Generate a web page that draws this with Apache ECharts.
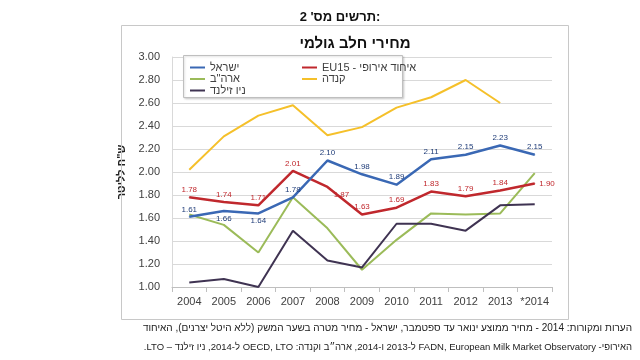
<!DOCTYPE html>
<html><head><meta charset="utf-8">
<script src="https://cdn.jsdelivr.net/npm/echarts@6/dist/echarts.min.js"></script>
<style>html,body{margin:0;padding:0;background:#fff}#c{width:640px;height:360px}</style>
</head><body><div id="c"></div>
<script>
const years = ['2004','2005','2006','2007','2008','2009','2010','2011','2012','2013','*2014'];
const israel = [1.61,1.66,1.64,1.78,2.10,1.98,1.89,2.11,2.15,2.23,2.15];
const eu15 = [1.78,1.74,1.71,2.01,1.87,1.63,1.69,1.83,1.79,1.84,1.90];
const usa = [1.63,1.54,1.30,1.78,1.51,1.15,1.41,1.64,1.63,1.64,1.99];
const canada = [2.02,2.31,2.49,2.58,2.32,2.39,2.56,2.65,2.80,2.60,null];
const nz = [1.04,1.07,1.00,1.49,1.23,1.17,1.55,1.55,1.49,1.71,1.72];
const names = ['ישראל','איחוד אירופי - EU15','ארה"ב','קנדה','ניו זילנד'];
const titleText = 'מחירי חלב גולמי';
const figText = "תרשים מס' 2:";
const yName = 'ש"ח לליטר';
const note1 = 'הערות ומקורות: 2014 - מחיר ממוצע ינואר עד ספטמבר, ישראל - מחיר מטרה בשער המשק (ללא היטל יצרנים), האיחוד';
const note2 = 'האירופי- FADN, European Milk Market Observatory ל-2013 ו-2014, ארה״ב וקנדה: OECD, LTO ל-2014, ניו זילנד – LTO.';

const RLE = '\u202B', PDF = '\u202C';
const FONT = '"Liberation Sans", Arial, "DejaVu Sans", sans-serif';
const israelPos = ['top','bottom','bottom','top','top','top','top','top','top','top','top'];
const euPos = ['top','top','top','top','bottom','top','top','top','top','top','right'];

function withLabels(vals, pos, color, isEu) {
  return vals.map((v, i) => ({
    value: v,
    label: { show: true, position: pos[i], distance: pos[i]==='right' ? 4 : 3, color: color, fontSize: 8, fontFamily: FONT,
      formatter: p => p.value.toFixed(2), offset: (pos[i]==='bottom' && isEu) ? [14,0] : [0,0] }
  }));
}

const lineBase = { type: 'line', symbol: 'circle', symbolSize: 1, showSymbol: true, emphasis: { disabled: true } };
const icon = 'path://M0,5 L15,5 L15,7 L0,7 Z';
const legendText = { color: '#404040', fontSize: 11, fontFamily: FONT };

const chart = echarts.init(document.getElementById('c'));
chart.setOption({
  animation: false,
  backgroundColor: '#fff',
  grid: { left: 172, right: 88, top: 57, bottom: 73 },
  xAxis: {
    type: 'category', data: years, boundaryGap: true,
    axisLine: { lineStyle: { color: '#bfbfbf' } },
    axisTick: { show: true, interval: 0, lineStyle: { color: '#bfbfbf' } },
    axisLabel: { color: '#404040', fontSize: 11, fontFamily: FONT, margin: 9, interval: 0 }
  },
  yAxis: {
    type: 'value', min: 1, max: 3, interval: 0.2,
    name: yName, nameLocation: 'middle', nameGap: 40, nameRotate: 90,
    nameTextStyle: { color: '#222', fontSize: 11, fontWeight: 'bold', fontFamily: FONT },
    axisLine: { show: true, lineStyle: { color: '#d9d9d9' } },
    axisTick: { show: false },
    splitLine: { lineStyle: { color: '#d9d9d9' } },
    axisLabel: { color: '#404040', fontSize: 11, fontFamily: FONT, margin: 12, formatter: v => v.toFixed(2) }
  },
  legend: [
    { data: [names[0], names[2], names[4]], orient: 'vertical', left: 185, top: 57, itemWidth: 15, itemHeight: 12, itemGap: 0.5,
      icon: icon, textStyle: legendText, formatter: n => RLE + n + PDF, z: 6 },
    { data: [names[1], names[3]], orient: 'vertical', left: 297, top: 57, itemWidth: 15, itemHeight: 12, itemGap: 0.5,
      icon: icon, textStyle: legendText, formatter: n => RLE + n + PDF, z: 6 }
  ],
  graphic: [
    { type: 'rect', shape: { x: 121.5, y: 25.5, width: 447, height: 294 }, style: { fill: null, stroke: '#c8c8c8', lineWidth: 1 }, z: 1 },
    { type: 'rect', shape: { x: 183.5, y: 55.5, width: 219, height: 42 }, style: { fill: '#fff', stroke: '#bfbfbf', lineWidth: 1, shadowBlur: 2, shadowColor: 'rgba(0,0,0,0.15)', shadowOffsetX: 1, shadowOffsetY: 1 }, z: 3 },
    { type: 'text', x: 340, y: 17, style: { text: figText, fill: '#111', font: 'bold 13px ' + FONT, textAlign: 'center', textVerticalAlign: 'middle' }, z: 5 },
    { type: 'text', x: 355, y: 44, style: { text: titleText, fill: '#111', font: 'bold 15px ' + FONT, textAlign: 'center', textVerticalAlign: 'middle' }, z: 5 },
    { type: 'text', x: 632, y: 328, style: { text: RLE + note1 + PDF, fill: '#222', font: '10px ' + FONT, textAlign: 'right', textVerticalAlign: 'middle' }, z: 5 },
    { type: 'text', x: 632, y: 347, style: { text: RLE + note2 + PDF, fill: '#222', font: '9.5px ' + FONT, textAlign: 'right', textVerticalAlign: 'middle' }, z: 5 }
  ],
  series: [
    Object.assign({}, lineBase, { name: names[0], data: withLabels(israel, israelPos, '#1f3c78', false),
      lineStyle: { color: '#3a68b4', width: 2.5 }, itemStyle: { color: '#3a68b4' }, z: 5 }),
    Object.assign({}, lineBase, { name: names[1], data: withLabels(eu15, euPos, '#c0282d', true),
      lineStyle: { color: '#c0282d', width: 2.5 }, itemStyle: { color: '#c0282d' }, z: 4 }),
    { name: names[2], type: 'line', data: usa, showSymbol: false, symbol: 'none',
      lineStyle: { color: '#9bbb59', width: 2 }, itemStyle: { color: '#9bbb59' }, z: 3 },
    { name: names[3], type: 'line', data: canada, showSymbol: false, symbol: 'none',
      lineStyle: { color: '#f5c02a', width: 2 }, itemStyle: { color: '#f5c02a' }, z: 3 },
    { name: names[4], type: 'line', data: nz, showSymbol: false, symbol: 'none',
      lineStyle: { color: '#3f3352', width: 2 }, itemStyle: { color: '#3f3352' }, z: 3 }
  ]
});
</script></body></html>
